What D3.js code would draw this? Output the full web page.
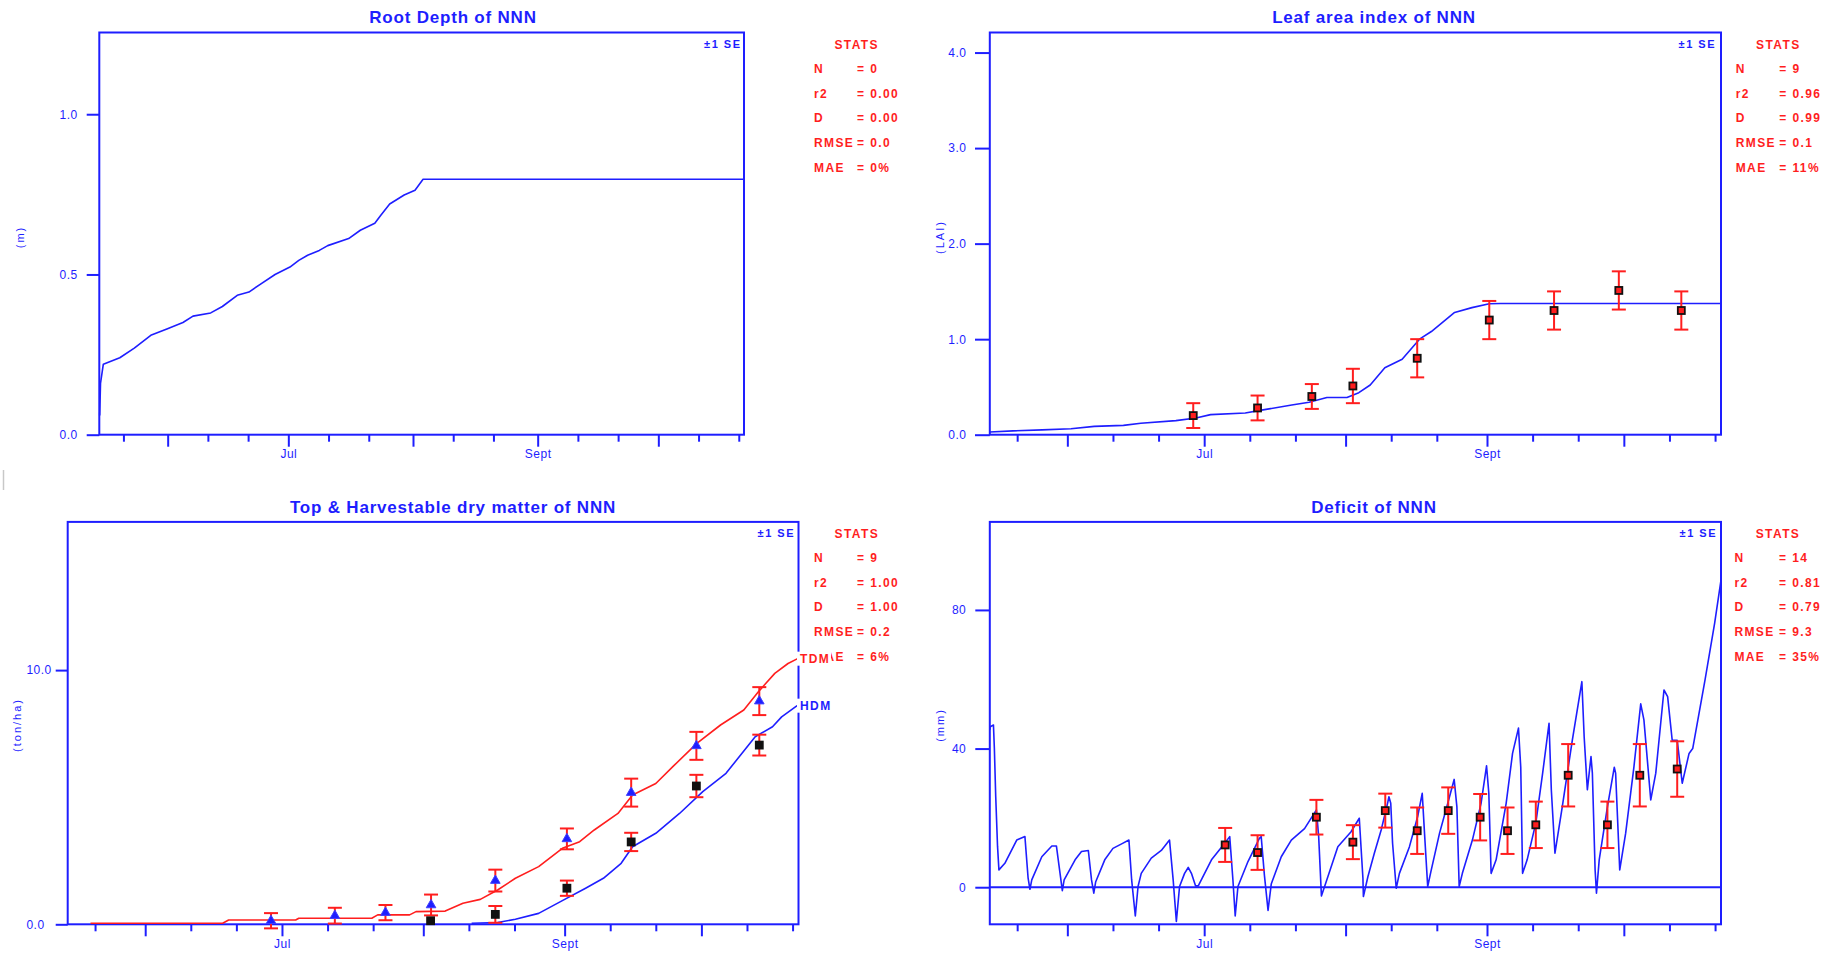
<!DOCTYPE html>
<html>
<head>
<meta charset="utf-8">
<script src="https://cdn.jsdelivr.net/npm/d3@7"></script>
<style>
  body { margin: 0; background: #fff; }
  svg text { font-family: "Liberation Sans", Arial, sans-serif; }
</style>
</head>
<body>
<div id="chart"></div>
<script>
// x values are day of year (May 15 = 135 ... Oct 22 = 295)
const dayDomain = [135, 295.3];
const monthStart = [152, 182, 213, 244, 274];          // Jun 1 .. Oct 1
const monthLabel = {182: "Jul", 244: "Sept"};
const minorDays = [121, 152, 182, 213, 244, 274]
  .flatMap(d => [d + 10, d + 20])
  .filter(d => d > dayDomain[0] && d < dayDomain[1]);

const statNames = ["N", "r2", "D", "RMSE", "MAE"];
const rootStats = ["0", "0.00", "0.00", "0.0", "0%"];
const laiStats = ["9", "0.96", "0.99", "0.1", "11%"];
const dmStats = ["9", "1.00", "1.00", "0.2", "6%"];
const defStats = ["14", "0.81", "0.79", "9.3", "35%"];

// root depth (m)
const rootDay = [135.1, 135.3, 136, 140.1, 143.7, 147.8, 151.8, 155.8, 158.3, 162.7, 165.6, 169.3, 172.2, 175.1,
  178.7, 182.4, 184.6, 186.8, 189.7, 191.8, 197, 199.9, 203.5, 205, 207.2, 210.8, 213.5, 215.5, 295.3];
const rootDepth = [0.06, 0.16, 0.22, 0.24, 0.27, 0.31, 0.33, 0.35, 0.37, 0.38, 0.40, 0.435, 0.445, 0.47,
  0.50, 0.523, 0.544, 0.56, 0.575, 0.59, 0.612, 0.638, 0.66, 0.685, 0.72, 0.748, 0.763, 0.797, 0.797];

// leaf area index
const laiDay = [135, 140.1, 146.5, 152.8, 157.9, 164.3, 168.1, 175.8, 180.2, 183.4, 191, 194.9, 201.2, 205,
  208.9, 213.3, 215.9, 218.4, 221.6, 225.4, 229.2, 231.8, 236.9, 240.7, 244.5, 247, 295.3];
const laiSim = [0.028, 0.04, 0.05, 0.063, 0.087, 0.098, 0.12, 0.147, 0.175, 0.21, 0.227, 0.26, 0.31, 0.34,
  0.39, 0.39, 0.44, 0.52, 0.70, 0.79, 1.0, 1.08, 1.28, 1.33, 1.37, 1.374, 1.374];
const laiObsDay = [179.6, 193.7, 205.6, 214.6, 228.7, 244.5, 258.7, 272.9, 286.6];
const laiObs = [0.20, 0.28, 0.40, 0.51, 0.80, 1.20, 1.30, 1.51, 1.30];
const laiSE = [0.13, 0.13, 0.13, 0.18, 0.20, 0.20, 0.20, 0.20, 0.20];

// top (TDM) & harvestable (HDM) dry matter, ton/ha
const tdmDay = [140, 169, 170.3, 185, 185.7, 201.7, 203, 210, 211.4, 217.8, 221.7, 225.5, 229.3, 233.2, 238.3,
  243.5, 247.3, 250.5, 255.7, 258.9, 264, 267.9, 273, 278.2, 283.3, 286.5, 290.1, 293, 295.1];
const tdmSim = [0.04, 0.04, 0.17, 0.17, 0.24, 0.24, 0.37, 0.37, 0.5, 0.52, 0.83, 0.98, 1.35, 1.81, 2.27,
  2.99, 3.25, 3.71, 4.36, 5.09, 5.54, 6.23, 7.12, 7.84, 8.43, 9.15, 9.87, 10.26, 10.45];
const hdmDay = [223.6, 229.3, 233.2, 238.3, 243.5, 248.6, 252.5, 256.4, 258.9, 264, 269.2, 274.3, 279.4,
  285.8, 289.6, 291.6, 295];
const hdmSim = [0.04, 0.07, 0.2, 0.43, 0.93, 1.42, 1.81, 2.40, 3.05, 3.58, 4.36, 5.22, 5.94,
  7.38, 7.77, 8.16, 8.6];
const tdmObsDay = [179.6, 193.6, 204.7, 214.7, 228.8, 244.5, 258.6, 272.9, 286.7];
const tdmObs = [0.14, 0.34, 0.46, 0.76, 1.72, 3.36, 5.18, 7.02, 8.78];
const tdmSE = [0.30, 0.31, 0.30, 0.41, 0.43, 0.41, 0.55, 0.55, 0.55];
const hdmObsDay = [214.6, 228.8, 244.5, 258.6, 272.9, 286.7];
const hdmObs = [0.14, 0.39, 1.42, 3.24, 5.44, 7.05];
const hdmSE = [0, 0.33, 0.30, 0.36, 0.44, 0.41];

// soil water deficit (mm)
const defDay = [135, 135.1, 135.8, 136, 136.3, 136.7, 137, 138.3, 140.9, 142.7, 143.4, 143.8, 144.2, 146.4,
  148.6, 149.6, 150.4, 150.9, 151.3, 153.7, 155.1, 156.6, 157.3, 157.8, 158.2, 160.2, 162, 163.9, 165.5,
  166.1, 166.9, 167.5, 168.2, 170.4, 172.6, 174.4, 175.2, 175.9, 176.6, 177.7, 178.5, 179.2, 180.1, 180.7,
  183.6, 186.5, 187.6, 188.3, 188.8, 189.4, 191.6, 194.1, 194.5, 195.2, 196, 196.7, 198.9, 201.1, 204,
  206.6, 207.1, 207.7, 208.4, 211.3, 214.2, 216, 216.8, 216.9, 217.9, 219.3, 220.8, 222.2, 222.5, 222.9,
  223.3, 224.1, 224.8, 227, 228.8, 229.8, 230.3, 231, 231.7, 233.6, 235.4, 236.8, 237.4, 237.9, 238.6,
  240.8, 242.7, 243.9, 244.4, 244.9, 246, 248.2, 249.6, 250.9, 251.4, 251.8, 252.8, 254.7, 256.2, 257.6,
  258.1, 258.9, 260.5, 262.7, 264.8, 265.3, 266, 266.8, 267.1, 267.7, 268, 268.6, 270.4, 271.9, 272.2,
  273.1, 274.4, 276.2, 277.7, 278.4, 279.9, 281, 282.8, 283.6, 284.6, 285.7, 286.8, 288.3, 289.1, 291.8,
  293.9, 295.3];
const defSim = [45.4, 46.3, 46.8, 40.1, 26.1, 11.7, 5.0, 6.9, 13.6, 14.6, 2.6, -0.6, 2.1, 8.8,
  11.9, 11.9, 4.0, -1.0, 2.1, 7.9, 10.3, 10.6, 2.1, -1.7, 1.5, 7.9, 11.2, 12.5, 13.6,
  2.1, -8.3, 0.2, 4.0, 8.4, 10.6, 13.6, 2.1, -9.9, 0.2, 4.0, 5.7, 4.0, 0.4, 0.4,
  7.9, 12.7, 14.6, 2.1, -8.3, 0.2, 7.4, 14.1, 14.6, 3.5, -6.7, 0.9, 8.8, 13.6, 16.9,
  22.3, 14.6, -2.5, 0.2, 11.7, 16.0, 19.9, 2.6, -2.7, 3.1, 9.8, 16.5, 24.2, 26.1, 24.2,
  12.7, -0.3, 4.0, 11.7, 20.4, 27.1, 15.6, 0.2, 4.5, 15.6, 24.2, 31.1, 23.2, 0.2, 4.0,
  13.6, 24.2, 35.0, 27.1, 4.0, 7.9, 24.2, 38.6, 45.9, 34.6, 4.0, 7.9, 18.5, 32.9, 47.3,
  28.1, 9.8, 23.2, 42.4, 59.3, 43.4, 28.1, 37.7, 32.9, 5.0, -1.7, 7.9, 23.2, 34.6, 32.9,
  5.0, 15.6, 34.6, 52.9, 48.3, 25.2, 32.9, 56.9, 55.0, 42.4, 42.4, 30.0, 38.6, 40.0, 59.8,
  76.1, 88.6];
const defObsDay = [186.6, 193.7, 206.6, 214.6, 221.7, 228.7, 235.5, 242.5, 248.5, 254.7, 261.8, 270.4, 277.5, 285.7];
const defObs = [12.2, 10.0, 20.2, 13.0, 22.1, 16.3, 22.1, 20.2, 16.3, 18.0, 32.3, 18.0, 32.3, 34.1];
const defSE = [4.9, 5.0, 5.0, 4.9, 4.9, 6.7, 6.7, 6.7, 6.7, 6.7, 9.0, 6.7, 9.0, 8.0];

const BLUE = "#1e1eff", RED = "#ff1e1e";

const svg = d3.select("#chart").append("svg")
  .attr("width", 1832).attr("height", 954)
  .style("display", "block").style("background", "#fff");

// small grey mark at the left edge of the screenshot
svg.append("line").attr("x1", 3.5).attr("x2", 3.5).attr("y1", 470).attr("y2", 490)
  .attr("stroke", "#c8c8c8").attr("stroke-width", 1.5);

function panel(p) {
  const x = d3.scaleLinear().domain(dayDomain).range([p.left, p.right]);
  const y = d3.scaleLinear().domain(p.yDomain).range([p.bottom, p.top]);
  const g = svg.append("g");

  g.append("g").attr("transform", `translate(0,${p.bottom})`)
    .call(d3.axisBottom(x).tickValues(minorDays).tickSize(7).tickFormat(""));
  g.append("g").attr("transform", `translate(0,${p.bottom})`)
    .call(d3.axisBottom(x).tickValues(monthStart).tickSize(12).tickPadding(3)
      .tickFormat(d => monthLabel[d] || ""));
  const ya = g.append("g").attr("transform", `translate(${p.left},0)`)
    .call(d3.axisLeft(y).tickValues(p.yTicks).tickSize(p.tickLen).tickPadding(p.pad)
      .tickFormat(d3.format(p.fmt)));
  if (p.labelStart) ya.selectAll("text").attr("text-anchor", "start").attr("x", p.labelStart - p.left);

  g.selectAll(".domain").remove();
  g.selectAll(".tick line").attr("stroke", BLUE).attr("stroke-width", 2);
  g.selectAll(".tick text").attr("fill", BLUE).attr("font-size", 12)
    .attr("font-family", "Liberation Sans, Arial, sans-serif").attr("letter-spacing", 0.5);

  if (p.zeroLine) {
    g.append("line").attr("x1", p.left).attr("x2", p.right)
      .attr("y1", y(0)).attr("y2", y(0)).attr("stroke", BLUE).attr("stroke-width", 2);
  }

  g.append("rect")
    .attr("x", p.left).attr("y", p.top)
    .attr("width", p.right - p.left).attr("height", p.bottom - p.top)
    .attr("fill", "none").attr("stroke", BLUE).attr("stroke-width", 2);

  g.append("text").attr("x", p.titleX).attr("y", p.titleY).attr("dy", "0.35em")
    .attr("text-anchor", "middle").attr("fill", BLUE)
    .attr("font-size", 17).attr("font-weight", "bold").attr("letter-spacing", 0.8)
    .text(p.title);

  g.append("text").attr("transform", `translate(${p.ylabX},${p.ylabY}) rotate(-90)`)
    .attr("dy", "0.35em").attr("text-anchor", "middle").attr("fill", BLUE)
    .attr("font-size", 11).attr("letter-spacing", 2).text(p.ylab);

  g.append("text").attr("x", p.seX).attr("y", p.top + 11.6).attr("dy", "0.35em")
    .attr("text-anchor", "end").attr("fill", BLUE)
    .attr("font-size", 11).attr("font-weight", "bold").attr("letter-spacing", 1.5)
    .text("\u00b11 SE");

  // stats block
  const st = svg.append("g").attr("fill", RED).attr("font-size", 12)
    .attr("font-weight", "bold").attr("letter-spacing", 1.4);
  st.append("text").attr("x", p.statX).attr("y", p.statY).attr("dy", "0.35em")
    .attr("text-anchor", "middle").text("STATS");
  st.selectAll(".sn").data(statNames).join("text")
    .attr("x", p.nameX).attr("y", (d, i) => p.statY + 24.6 * (i + 1)).attr("dy", "0.35em")
    .text(d => d);
  st.selectAll(".sv").data(p.stats).join("text")
    .attr("x", p.eqX).attr("y", (d, i) => p.statY + 24.6 * (i + 1)).attr("dy", "0.35em")
    .text(d => "= " + d);

  return {g, x, y};
}

function simLine(pn, days, vals, color) {
  pn.g.append("path")
    .datum(d3.zip(days, vals))
    .attr("fill", "none").attr("stroke", color).attr("stroke-width", 1.6)
    .attr("stroke-linejoin", "round")
    .attr("d", d3.line().x(d => pn.x(d[0])).y(d => pn.y(d[1])));
}

function errBars(pn, days, vals, se) {
  const data = d3.zip(days, vals, se).filter(d => d[2] > 0);
  const eb = pn.g.append("g").attr("stroke", RED).attr("stroke-width", 2);
  eb.selectAll(".v").data(data).join("line")
    .attr("x1", d => pn.x(d[0])).attr("x2", d => pn.x(d[0]))
    .attr("y1", d => pn.y(d[1] - d[2])).attr("y2", d => pn.y(d[1] + d[2]));
  eb.selectAll(".t").data(data).join("line")
    .attr("x1", d => pn.x(d[0]) - 7).attr("x2", d => pn.x(d[0]) + 7)
    .attr("y1", d => pn.y(d[1] + d[2])).attr("y2", d => pn.y(d[1] + d[2]));
  eb.selectAll(".b").data(data).join("line")
    .attr("x1", d => pn.x(d[0]) - 7).attr("x2", d => pn.x(d[0]) + 7)
    .attr("y1", d => pn.y(d[1] - d[2])).attr("y2", d => pn.y(d[1] - d[2]));
}

function squares(pn, days, vals, fill) {
  pn.g.append("g").selectAll("rect").data(d3.zip(days, vals)).join("rect")
    .attr("x", d => pn.x(d[0]) - 3.5).attr("y", d => pn.y(d[1]) - 3.5)
    .attr("width", 7).attr("height", 7)
    .attr("fill", fill).attr("stroke", "#111").attr("stroke-width", 1.8);
}

// Root depth
const p1 = panel({
  left: 99.3, right: 744, top: 32.5, bottom: 434.7,
  yDomain: [0, 1.255], yTicks: [0, 0.5, 1.0], fmt: ".1f", tickLen: 12.6, pad: 9,
  title: "Root Depth of NNN", titleX: 453, titleY: 17.5,
  ylab: "(m)", ylabX: 20.5, ylabY: 237, seX: 741.5,
  statX: 856.7, statY: 44.3, nameX: 814, eqX: 857, stats: rootStats
});
simLine(p1, rootDay, rootDepth, BLUE);

// Leaf area index
const p2 = panel({
  left: 989.8, right: 1721, top: 32.5, bottom: 434.7,
  yDomain: [0, 4.21], yTicks: [0, 1, 2, 3, 4], fmt: ".1f", tickLen: 14.8, pad: 8.5,
  title: "Leaf area index of NNN", titleX: 1374, titleY: 17.5,
  ylab: "(LAI)", ylabX: 940.4, ylabY: 237, seX: 1716,
  statX: 1778.3, statY: 44.3, nameX: 1735.7, eqX: 1779.3, stats: laiStats
});
simLine(p2, laiDay, laiSim, BLUE);
errBars(p2, laiObsDay, laiObs, laiSE);
squares(p2, laiObsDay, laiObs, RED);

// Top & harvestable dry matter
const p3 = panel({
  left: 67.7, right: 798.5, top: 521.9, bottom: 924.3,
  yDomain: [0, 15.83], yTicks: [0, 10], fmt: ".1f", tickLen: 12, pad: 3, labelStart: 26.4,
  title: "Top & Harvestable dry matter of NNN", titleX: 453, titleY: 507,
  ylab: "(ton/ha)", ylabX: 17.6, ylabY: 725, seX: 795,
  statX: 856.8, statY: 533.3, nameX: 814, eqX: 857, stats: dmStats
});
simLine(p3, tdmDay, tdmSim, RED);
simLine(p3, hdmDay, hdmSim, BLUE);
errBars(p3, tdmObsDay, tdmObs, tdmSE);
errBars(p3, hdmObsDay, hdmObs, hdmSE);
p3.g.append("g").selectAll("path").data(d3.zip(tdmObsDay, tdmObs)).join("path")
  .attr("transform", d => `translate(${p3.x(d[0])},${p3.y(d[1])})`)
  .attr("d", d3.symbol(d3.symbolTriangle, 40))
  .attr("fill", BLUE).attr("stroke", "#4040ff").attr("stroke-width", 1);
squares(p3, hdmObsDay, hdmObs, "#111");

// series labels at the right end of the lines, on white boxes
const endLabels = [
  {text: "TDM", color: RED, v: tdmSim[tdmSim.length - 1]},
  {text: "HDM", color: BLUE, v: hdmSim[hdmSim.length - 1]}
];
endLabels.forEach(l => {
  const yy = p3.y(l.v);
  svg.append("rect").attr("x", 797).attr("y", yy - 7).attr("width", 34).attr("height", 14).attr("fill", "#fff");
  svg.append("text").attr("x", 800).attr("y", yy).attr("dy", "0.35em")
    .attr("fill", l.color).attr("font-size", 12).attr("font-weight", "bold")
    .attr("letter-spacing", 1.4).text(l.text);
});

// Deficit
const p4 = panel({
  left: 989.8, right: 1721, top: 521.9, bottom: 924.3,
  yDomain: [-10.7, 105.4], yTicks: [0, 40, 80], fmt: "d", tickLen: 14.5, pad: 9,
  title: "Deficit of NNN", titleX: 1374, titleY: 507, zeroLine: true,
  ylab: "(mm)", ylabX: 940.4, ylabY: 725, seX: 1717,
  statX: 1778, statY: 533.3, nameX: 1734.4, eqX: 1779, stats: defStats
});
simLine(p4, defDay, defSim, BLUE);
errBars(p4, defObsDay, defObs, defSE);
squares(p4, defObsDay, defObs, RED);
</script>
</body>
</html>
